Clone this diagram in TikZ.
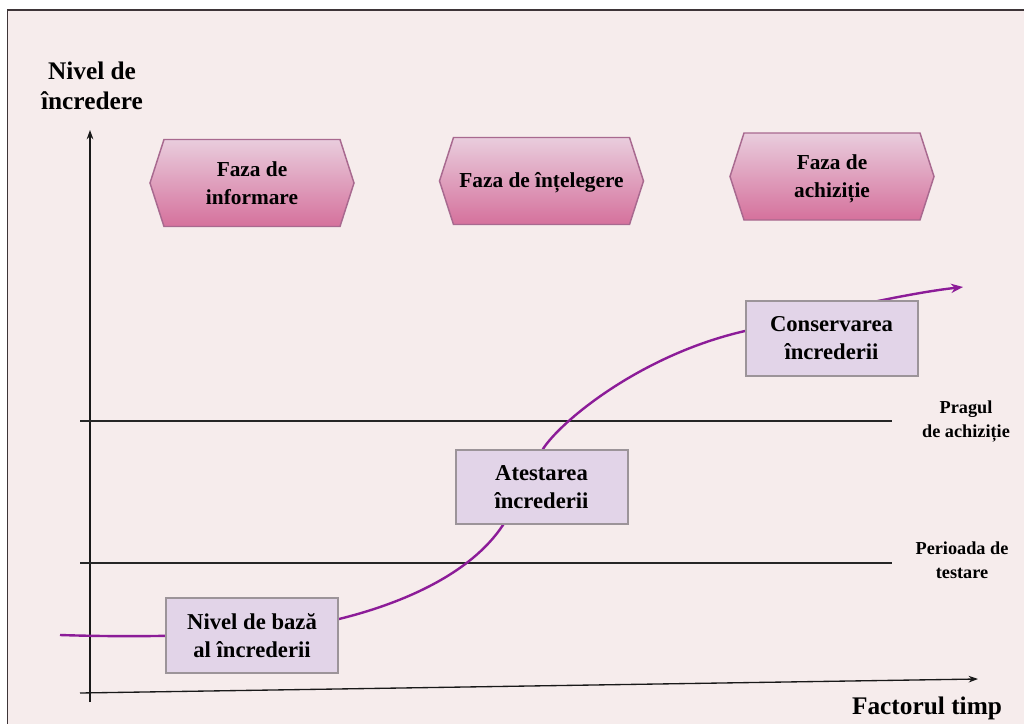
\documentclass[tikz,border=0pt]{standalone}
\usepackage{fontspec}
\setmainfont{Liberation Serif}
\usetikzlibrary{arrows.meta}

\definecolor{pagebg}{HTML}{F6ECEC}
\definecolor{frame}{HTML}{3E3538}
\definecolor{hextop}{HTML}{E9CDDD}
\definecolor{hexbot}{HTML}{D5719C}
\definecolor{hexedge}{HTML}{A8698F}
\definecolor{boxfill}{HTML}{E2D4E8}
\definecolor{boxedge}{HTML}{9C9499}
\definecolor{trend}{HTML}{8C1C98}

\tikzset{
  phasetext/.style={font=\bfseries\fontsize{16}{21}\selectfont, align=center, text=black},
  phaseshape/.style={draw=hexedge, line width=1.1pt, top color=hextop, bottom color=hexbot},
  stagebox/.style={draw=boxedge, line width=1.5pt, fill=boxfill,
    minimum width=129pt, minimum height=56pt, align=center,
    font=\bfseries\fontsize{17}{21}\selectfont},
  axis/.style={line width=1pt, draw=black!90, -{Stealth[length=7pt,width=5pt]}},
  level/.style={line width=1pt, draw=black!85},
  trendline/.style={draw=trend, line width=1.8pt},
  axislabel/.style={font=\bfseries\fontsize{19}{22.5}\selectfont, align=center},
  levellabel/.style={font=\bfseries\fontsize{13.7}{18}\selectfont, align=center},
}

% hexagonal phase banner: name, x, y, text y, text
\newcommand\phasehex[5]{%
  \path[phaseshape]
    (#2-102,#3) -- (#2-88,#3-43.5) -- (#2+88,#3-43.5) -- (#2+102,#3)
    -- (#2+88,#3+43.5) -- (#2-88,#3+43.5) -- cycle;
  \node[phasetext] (#1) at (#2,#4) {#5};
}

\begin{document}
\begin{tikzpicture}[x=0.75pt, y=-0.75pt]
  \useasboundingbox (0,0) rectangle (1024,724);
  \fill[white] (0,0) rectangle (1024,724);
  \fill[pagebg] (7.5,10) rectangle (1024,724);
  \draw[frame, line width=1.2pt] (7.5,724) -- (7.5,10) -- (1024,10);

  % axes
  \coordinate (ybase) at (90,702);
  \coordinate (ytip) at (90,130);
  \coordinate (xbase) at (80,693);
  \coordinate (xtip) at (978,679);
  \draw[axis] (ybase) -- (ytip);
  \draw[axis] (xbase) -- (xtip);

  % threshold levels
  \coordinate (l1a) at (80,421);
  \coordinate (l1b) at (892,421);
  \coordinate (l2a) at (80,563);
  \coordinate (l2b) at (892,563);
  \draw[level] (l1a) -- (l1b);
  \draw[level] (l2a) -- (l2b);

  % axis and level labels
  \node[axislabel] (ylab) at (92,86) {Nivel de\\încredere};
  \node[axislabel] (xlab) at (927,708) {Factorul timp};
  \node[levellabel] (thr) at (966,421) {Pragul\\de achiziție};
  \node[levellabel] (test) at (962,560) {Perioada de\\testare};

  % phases
  \phasehex{p1}{252}{183}{183}{Faza de\\informare}
  \phasehex{p2}{541.5}{181}{182.5}{Faza de înțelegere}
  \phasehex{p3}{832}{176.5}{179}{Faza de\\achiziție}

  % trust curve, drawn beneath the stage boxes
  \coordinate (tstart) at (60,635);
  \coordinate (tend) at (963,287);
  \draw[trendline, -{Stealth[length=9pt,width=7pt]}] (tstart)
    .. controls (150,638) and (270,636) .. (339,619)
    .. controls (400,604) and (470,575) .. (503,525)
    .. controls (520,499) and (530,470) .. (543,449)
    .. controls (560,422) and (640,355) .. (745,331)
    .. controls (800,318) and (900,294) .. (tend);

  % stages
  \node[stagebox] (b1) at (252,635.5) {Nivel de bază\\al încrederii};
  \node[stagebox] (b2) at (541.5,487) {Atestarea\\încrederii};
  \node[stagebox] (b3) at (831.5,338.5) {Conservarea\\încrederii};
\end{tikzpicture}
\end{document}
